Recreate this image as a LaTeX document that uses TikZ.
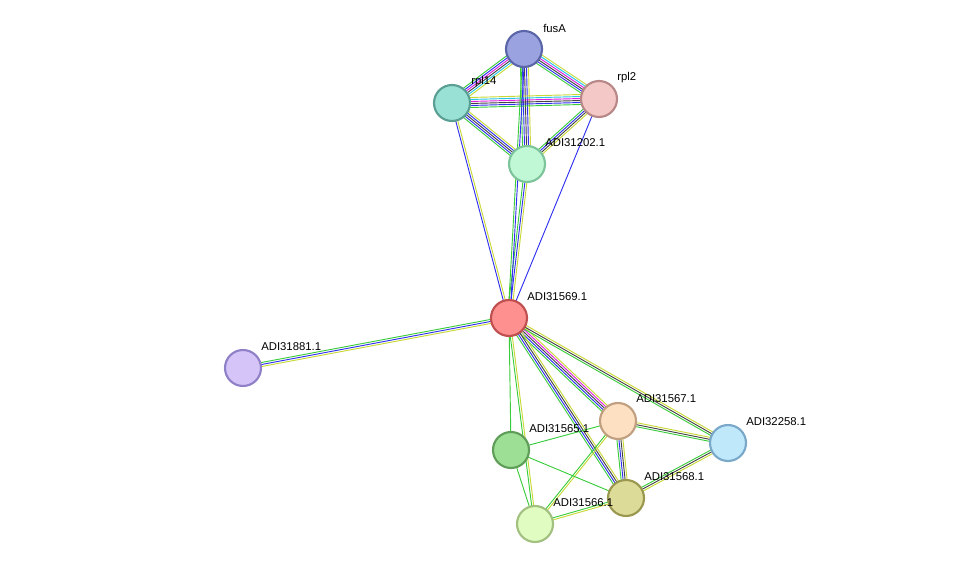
\documentclass[tikz,border=0pt]{standalone}
\usepackage{fontspec}
\setmainfont{Liberation Sans}
\usetikzlibrary{calc,backgrounds}
\definecolor{eg}{HTML}{3BCC3B}\definecolor{eb}{HTML}{3030F0}\definecolor{em}{HTML}{E020E0}
\definecolor{ek}{HTML}{444444}\definecolor{ec}{HTML}{27C6E6}\definecolor{ey}{HTML}{C8D836}
\newcommand\edg[4]{\foreach[count=\i] \c in {#3}{\pgfmathsetmacro\o{(\i-(#4+1)/2)*1.5}
 \draw[\c,line width=0.7pt] ($(#1)!\o pt!90:(#2)$) -- ($(#2)!\o pt!-90:(#1)$);}}
\tikzset{prot/.style={circle,minimum size=27pt,inner sep=0pt,line width=1.6pt},
 lab/.style={anchor=west,font=\fontsize{8.5pt}{10pt}\selectfont,inner sep=0pt}}
\begin{document}
\begin{tikzpicture}[x=0.75pt,y=-0.75pt]
\useasboundingbox (0,0) rectangle (975,570);
\node[prot,fill={rgb,255:red,154;green,163;blue,224},draw={rgb,255:red,90;green,102;blue,168}] (fusA) at (524,49) {};
\node[prot,fill={rgb,255:red,153;green,224;blue,213},draw={rgb,255:red,90;green,158;blue,148}] (rpl14) at (452,103) {};
\node[prot,fill={rgb,255:red,245;green,200;blue,200},draw={rgb,255:red,184;green,136;blue,136}] (rpl2) at (599,99) {};
\node[prot,fill={rgb,255:red,192;green,247;blue,213},draw={rgb,255:red,126;green,196;blue,154}] (a202) at (527,164) {};
\node[prot,fill={rgb,255:red,255;green,144;blue,144},draw={rgb,255:red,192;green,80;blue,80}] (a569) at (509,318) {};
\node[prot,fill={rgb,255:red,212;green,196;blue,248},draw={rgb,255:red,144;green,128;blue,200}] (a881) at (243,368) {};
\node[prot,fill={rgb,255:red,253;green,224;blue,194},draw={rgb,255:red,192;green,160;blue,128}] (a567) at (618,421) {};
\node[prot,fill={rgb,255:red,192;green,232;blue,251},draw={rgb,255:red,122;green,168;blue,200}] (a258) at (728,443) {};
\node[prot,fill={rgb,255:red,157;green,223;blue,149},draw={rgb,255:red,95;green,158;blue,88}] (a565) at (511,450) {};
\node[prot,fill={rgb,255:red,221;green,219;blue,152},draw={rgb,255:red,154;green,152;blue,78}] (a568) at (626,498) {};
\node[prot,fill={rgb,255:red,224;green,252;blue,192},draw={rgb,255:red,162;green,192;blue,128}] (a566) at (535,524) {};
\node[lab] (lfusA) at (543,28) {fusA};
\node[lab] (lrpl14) at (471,82) {rpl14};
\node[lab] (lrpl2) at (617,78) {rpl2};
\node[lab] (l202) at (545,143) {ADI31202.1};
\node[lab] (l569) at (527,297) {ADI31569.1};
\node[lab] (l881) at (261,347) {ADI31881.1};
\node[lab] (l567) at (636,399) {ADI31567.1};
\node[lab] (l258) at (746,422) {ADI32258.1};
\node[lab] (l565) at (529,429) {ADI31565.1};
\node[lab] (l568) at (644,477) {ADI31568.1};
\node[lab] (l566) at (553,503) {ADI31566.1};
\begin{scope}[on background layer]
\edg{fusA}{rpl14}{eg,eb,em,ek,ec,ey}{6}
\edg{fusA}{rpl2}{eg,eb,ek,em,ec,ey}{6}
\edg{fusA}{a202}{eg,eb,ek,eb,ey}{5}
\edg{rpl14}{rpl2}{eg,eb,ek,em,ec,ey}{6}
\edg{rpl14}{a202}{eg,eb,ek,eb,ey}{5}
\edg{rpl2}{a202}{eg,eb,ek,ey}{4}
\edg{rpl14}{a569}{eb,ey}{2}
\edg{rpl2}{a569}{eb}{1}
\edg{a202}{a569}{eg,eb,ey}{3}
\edg{fusA}{a569}{eg,eb}{2}
\edg{a881}{a569}{ey,eb,eg}{3}
\edg{a569}{a567}{eg,eb,ek,em,ey}{5}
\edg{a569}{a258}{eg,ek,ey}{3}
\edg{a569}{a568}{eg,eb,ek,ey}{4}
\edg{a569}{a565}{eg}{1}
\edg{a569}{a566}{eg,ey}{2}
\edg{a567}{a258}{eg,ek,ey}{3}
\edg{a567}{a568}{eg,eb,ek,ey}{4}
\edg{a567}{a566}{eg,ey}{2}
\edg{a258}{a568}{eg,ek,ey}{3}
\edg{a565}{a568}{eg}{1}
\edg{a565}{a567}{eg}{1}
\edg{a565}{a566}{eg}{1}
\edg{a568}{a566}{eg,ey}{2}
\end{scope}
\end{tikzpicture}
\end{document}
